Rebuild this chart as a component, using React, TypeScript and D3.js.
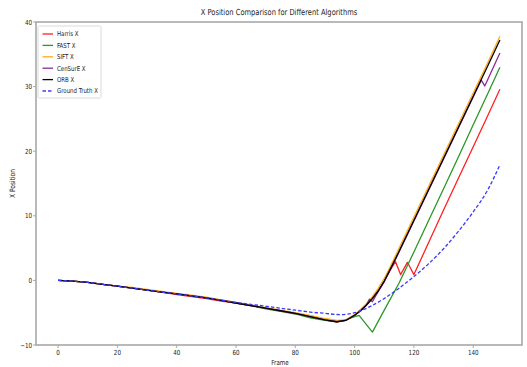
import React from "react";
import * as d3 from "d3";

const W = 527;
const H = 367;
const PL = 36, PR = 522, PT = 22, PB = 345;

const TITLE = "X Position Comparison for Different Algorithms";
const X_LABEL = "Frame";
const Y_LABEL = "X Position";
const X_TICKS = [0, 20, 40, 60, 80, 100, 120, 140];
const Y_TICKS = [-10, 0, 10, 20, 30, 40];

const ORB_FRAMES = [0,5,10,15,20,25,30,35,40,45,50,55,60,65,70,75,80,85,90,94,97,100,102,104,106,108,110,112,115,120,125,130,135,140,145,149];
const ORB_X = [0,-0.1,-0.3,-0.6,-0.9,-1.2,-1.5,-1.8,-2.1,-2.4,-2.7,-3.1,-3.5,-3.9,-4.3,-4.7,-5.1,-5.6,-6.1,-6.4,-6.2,-5.4,-4.7,-3.8,-2.8,-1.6,-0.1,1.7,4.5,9.3,14.1,18.9,23.7,28.5,33.3,37.2];

const SIFT_FRAMES = ORB_FRAMES;
const SIFT_X = [0,-0.1,-0.3,-0.6,-0.9,-1.1,-1.4,-1.7,-2.0,-2.3,-2.6,-3.0,-3.4,-3.8,-4.2,-4.6,-5.0,-5.4,-5.9,-6.2,-6.1,-5.3,-4.5,-3.6,-2.5,-1.2,0.3,2.1,5.0,9.8,14.6,19.4,24.2,29.0,33.8,37.8];

const CENSURE_FRAMES = [0,5,10,15,20,25,30,35,40,45,50,55,60,65,70,75,80,85,90,94,97,100,102,104,105,106,107,108,110,112,115,120,125,130,135,140,142.7,143.9,149];
const CENSURE_X = [0,-0.1,-0.3,-0.6,-0.9,-1.2,-1.5,-1.8,-2.1,-2.4,-2.7,-3.1,-3.5,-3.9,-4.3,-4.7,-5.1,-5.6,-6.1,-6.4,-6.2,-5.4,-4.7,-3.8,-2.9,-3.3,-2.5,-1.7,-0.2,1.6,4.4,9.2,14.0,18.8,23.6,28.4,31.0,30.1,35.2];

const FAST_FRAMES = [0,5,10,15,20,25,30,35,40,45,50,55,60,65,70,75,80,85,90,94,97,100,101.5,106,110,115,120,125,130,135,140,145,149];
const FAST_X = [0,-0.1,-0.3,-0.6,-0.9,-1.2,-1.5,-1.8,-2.1,-2.4,-2.7,-3.1,-3.5,-3.9,-4.4,-4.8,-5.2,-5.8,-6.2,-6.4,-6.1,-5.6,-5.4,-8.0,-4.6,-0.4,4.4,9.3,14.2,19.1,24.1,29.0,33.0];

const HARRIS_FRAMES = [0,5,10,15,20,25,30,35,40,45,50,55,60,65,70,75,80,85,90,94,97,100,102,104,106,108,110,112,113.8,115.5,117.8,120,125,130,135,140,145,149];
const HARRIS_X = [0,-0.1,-0.3,-0.6,-0.9,-1.2,-1.5,-1.8,-2.2,-2.5,-2.8,-3.2,-3.5,-3.9,-4.3,-4.7,-5.1,-5.6,-6.1,-6.4,-6.2,-5.4,-4.7,-3.8,-2.8,-1.6,-0.1,1.6,2.9,0.9,2.8,0.9,5.9,10.9,15.8,20.7,25.6,29.6];

const GT_FRAMES = [0,10,20,30,40,50,60,70,80,85,90,95,100,105,110,115,120,125,130,135,140,145,149];
const GT_X = [0,-0.3,-0.9,-1.5,-2.1,-2.7,-3.4,-4.0,-4.6,-4.9,-5.1,-5.3,-5.0,-4.1,-2.8,-1.2,0.6,2.6,4.9,7.6,10.6,14.1,17.9];

const SERIES = [
  { name: "Harris X", frames: HARRIS_FRAMES, values: HARRIS_X, color: "#ff2020", dash: null, smooth: false },
  { name: "FAST X", frames: FAST_FRAMES, values: FAST_X, color: "#2a982a", dash: null, smooth: false },
  { name: "SIFT X", frames: SIFT_FRAMES, values: SIFT_X, color: "#ffae1a", dash: null, smooth: false },
  { name: "CenSurE X", frames: CENSURE_FRAMES, values: CENSURE_X, color: "#8e2a9a", dash: null, smooth: false },
  { name: "ORB X", frames: ORB_FRAMES, values: ORB_X, color: "#000000", dash: null, smooth: false },
  { name: "Ground Truth X", frames: GT_FRAMES, values: GT_X, color: "#3a3aff", dash: "3.5,2", smooth: true },
];

const FONT = "DejaVu Sans, sans-serif";
const SX = 0.8;

function T({ x, y, size, anchor = "middle", rotate = 0, children, fill = "#222" }: any) {
  const tr = `translate(${x},${y}) rotate(${rotate}) scale(${SX},1)`;
  return (
    <text transform={tr} fontSize={size} fontFamily={FONT} textAnchor={anchor} fill={fill}>
      {children}
    </text>
  );
}

export default function App() {
  const x = d3.scaleLinear().domain([-7.45, 156.45]).range([PL, PR]);
  const y = d3.scaleLinear().domain([-10, 40]).range([PB, PT]);

  const mkLine = (smooth: boolean) =>
    d3
      .line<[number, number]>()
      .x((d) => x(d[0]))
      .y((d) => y(d[1]))
      .curve(smooth ? d3.curveMonotoneX : d3.curveLinear);

  const axisColor = "#a8a8a8";

  return (
    <svg
      width={W}
      height={H}
      style={{ position: "absolute", left: 0, top: 0, background: "#fff" }}
    >
      <rect x={0} y={0} width={W} height={H} fill="#fff" />
      <defs>
        <clipPath id="plot">
          <rect x={PL} y={PT} width={PR - PL} height={PB - PT} />
        </clipPath>
      </defs>
      <g clipPath="url(#plot)">
        {SERIES.map((s) => {
          const pts = s.frames.map((f, i) => [f, s.values[i]] as [number, number]);
          return (
            <path
              key={s.name}
              d={mkLine(s.smooth)(pts) || ""}
              fill="none"
              stroke={s.color}
              strokeWidth={1.3}
              strokeDasharray={s.dash || undefined}
              strokeLinejoin="round"
            />
          );
        })}
      </g>
      {/* frame */}
      <rect x={PL} y={PT} width={PR - PL} height={PB - PT} fill="none" stroke={axisColor} strokeWidth={1.6} />
      {/* x ticks */}
      {X_TICKS.map((t) => (
        <g key={"x" + t}>
          <line x1={x(t)} x2={x(t)} y1={PB} y2={PB + 3} stroke={axisColor} strokeWidth={1} />
          <T x={x(t)} y={PB + 10} size={7}>{t}</T>
        </g>
      ))}
      {Y_TICKS.map((t) => (
        <g key={"y" + t}>
          <line x1={PL - 3} x2={PL} y1={y(t)} y2={y(t)} stroke={axisColor} strokeWidth={1} />
          <T x={PL - 4} y={y(t) + 2.5} size={7} anchor="end">{t === -10 ? "\u221210" : t}</T>
        </g>
      ))}
      <T x={(PL + PR) / 2} y={15} size={8.4}>{TITLE}</T>
      <T x={(PL + PR) / 2 + 1} y={365} size={7}>{X_LABEL}</T>
      <T x={15} y={(PT + PB) / 2} size={7.4} rotate={-90}>{Y_LABEL}</T>
      {/* legend */}
      <rect x={38} y={26} width={63} height={72} fill="#fff" stroke="#d0d0d0" strokeWidth={0.8} rx={1.5} />
      {SERIES.map((s, i) => {
        const ly = 34 + i * 11.4;
        return (
          <g key={"l" + s.name}>
            <line x1={42.5} x2={53} y1={ly} y2={ly} stroke={s.color} strokeWidth={1.3} strokeDasharray={s.dash || undefined} />
            <T x={57} y={ly + 2.4} size={6.8} anchor="start">{s.name}</T>
          </g>
        );
      })}
    </svg>
  );
}
